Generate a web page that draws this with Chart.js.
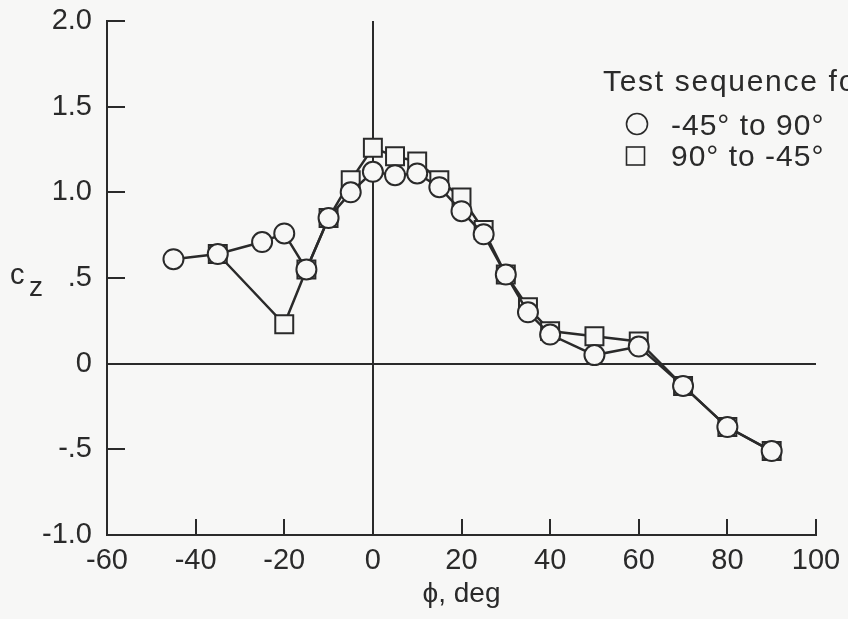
<!DOCTYPE html>
<html>
<head>
<meta charset="utf-8">
<title>cz vs phi</title>
<script src="https://cdn.jsdelivr.net/npm/chart.js@4/dist/chart.umd.min.js"></script>
<style>
  html, body { margin: 0; padding: 0; background: #f7f7f6; }
  #wrap { width: 848px; height: 619px; }
</style>
</head>
<body>
<div id="wrap"><canvas id="myChart" width="848" height="619"></canvas></div>
<script>
// sweep -45 deg -> 90 deg (circles)
var phiUp = [-45, -35, -25, -20, -15, -10, -5, 0, 5, 10, 15, 20, 25, 30, 35, 40, 50, 60, 70, 80, 90];
var czUp  = [0.61, 0.64, 0.71, 0.76, 0.55, 0.85, 1.00, 1.12, 1.10, 1.11, 1.03, 0.89, 0.755, 0.52, 0.30, 0.17, 0.05, 0.10, -0.13, -0.37, -0.51];
// sweep 90 deg -> -45 deg (squares)
var phiDown = [90, 80, 70, 60, 50, 40, 35, 30, 25, 20, 15, 10, 5, 0, -5, -10, -15, -20, -35];
var czDown  = [-0.51, -0.37, -0.13, 0.13, 0.16, 0.19, 0.33, 0.52, 0.78, 0.97, 1.07, 1.18, 1.21, 1.26, 1.07, 0.85, 0.55, 0.23, 0.64];

var seriesNames = ['-45\u00b0 to 90\u00b0', '90\u00b0 to -45\u00b0'];
var legendTitle = 'Test sequence for';
var yTickText = {'2': '2.0', '1.5': '1.5', '1': '1.0', '0.5': '.5', '0': '0', '-0.5': '-.5', '-1': '-1.0'};

var ink = '#2a2a2a';
var paper = '#f7f7f6';
var fontFam = '"Liberation Sans", Arial, Helvetica, sans-serif';

function pts(xs, ys) {
  return xs.map(function (x, i) { return {x: x, y: ys[i]}; });
}

// page background
var bgPlugin = {
  id: 'paper',
  beforeDraw: function (chart) {
    var c = chart.ctx;
    c.save();
    c.fillStyle = paper;
    c.fillRect(0, 0, chart.width, chart.height);
    c.restore();
  }
};

// tick marks pointing into the plot, plus the cz label and the legend box
var decoPlugin = {
  id: 'deco',
  afterDraw: function (chart) {
    var c = chart.ctx;
    var xs = chart.scales.x, ys = chart.scales.y, a = chart.chartArea;
    c.save();
    c.strokeStyle = ink;
    c.lineWidth = 2;
    c.beginPath();
    xs.ticks.forEach(function (t) {
      if (t.value === xs.min || t.value === 0) return;
      var px = Math.round(xs.getPixelForValue(t.value));
      c.moveTo(px, a.bottom);
      c.lineTo(px, a.bottom - 16);
    });
    ys.ticks.forEach(function (t) {
      if (t.value === ys.min || t.value === 0) return;
      var py = Math.round(ys.getPixelForValue(t.value));
      c.moveTo(a.left, py);
      c.lineTo(a.left + 18, py);
    });
    c.stroke();

    // axis name c_z
    var yMid = ys.getPixelForValue(0.5);
    c.fillStyle = ink;
    c.textBaseline = 'alphabetic';
    c.textAlign = 'left';
    c.font = '29px ' + fontFam;
    c.fillText('c', 10, yMid + 6);
    c.font = '28px ' + fontFam;
    c.fillText('z', 29, yMid + 18);

    // legend
    c.font = '30px ' + fontFam;
    c.letterSpacing = '1.7px';
    c.fillText(legendTitle, 603, 91);
    c.letterSpacing = '1px';
    c.textBaseline = 'middle';
    c.fillText(seriesNames[0], 671, 127);
    c.fillText(seriesNames[1], 671, 158);
    c.lineWidth = 1.6;
    c.beginPath();
    c.arc(637, 124, 10.5, 0, Math.PI * 2);
    c.stroke();
    c.strokeRect(626.5, 147, 18, 18);
    c.restore();
  }
};

var ctx = document.getElementById('myChart').getContext('2d');
var myChart = new Chart(ctx, {
  type: 'scatter',
  data: {
    datasets: [
      {
        label: seriesNames[0],
        data: pts(phiUp, czUp),
        showLine: true,
        borderColor: ink,
        borderWidth: 2.5,
        tension: 0,
        pointStyle: 'circle',
        pointRadius: 10,
        pointHoverRadius: 10,
        pointBorderWidth: 2,
        pointBorderColor: ink,
        pointBackgroundColor: paper
      },
      {
        label: seriesNames[1],
        data: pts(phiDown, czDown),
        showLine: true,
        borderColor: ink,
        borderWidth: 2.5,
        tension: 0,
        pointStyle: 'rect',
        pointRadius: 12.7,
        pointHoverRadius: 12.7,
        pointBorderWidth: 2,
        pointBorderColor: ink,
        pointBackgroundColor: paper
      }
    ]
  },
  plugins: [bgPlugin, decoPlugin],
  options: {
    responsive: false,
    maintainAspectRatio: false,
    animation: false,
    devicePixelRatio: 1,
    layout: {padding: {left: 0, right: 32, top: 21, bottom: 0}},
    plugins: {legend: {display: false}, tooltip: {enabled: false}},
    scales: {
      x: {
        type: 'linear',
        min: -60, max: 100,
        afterFit: function (s) { s.height = 84; s.paddingLeft = 0; s.paddingRight = 0; },
        border: {display: true, color: ink, width: 2},
        grid: {
          drawTicks: false,
          lineWidth: 2,
          color: function (c) { return c.tick && c.tick.value === 0 ? ink : 'rgba(0,0,0,0)'; }
        },
        ticks: {stepSize: 20, color: ink, padding: 9, maxRotation: 0, font: {family: fontFam, size: 29}},
        title: {display: true, text: '\u03d5, deg', color: ink, font: {family: fontFam, size: 28}, padding: {top: 0, bottom: 8}}
      },
      y: {
        type: 'linear',
        min: -1, max: 2,
        afterFit: function (s) { s.width = 107; s.paddingTop = 0; s.paddingBottom = 0; },
        border: {display: true, color: ink, width: 2},
        grid: {
          drawTicks: false,
          lineWidth: 2,
          color: function (c) { return c.tick && c.tick.value === 0 ? ink : 'rgba(0,0,0,0)'; }
        },
        ticks: {
          stepSize: 0.5, color: ink, padding: 15,
          font: {family: fontFam, size: 29},
          callback: function (v) { return yTickText[String(v)]; }
        }
      }
    }
  }
});
</script>
</body>
</html>
